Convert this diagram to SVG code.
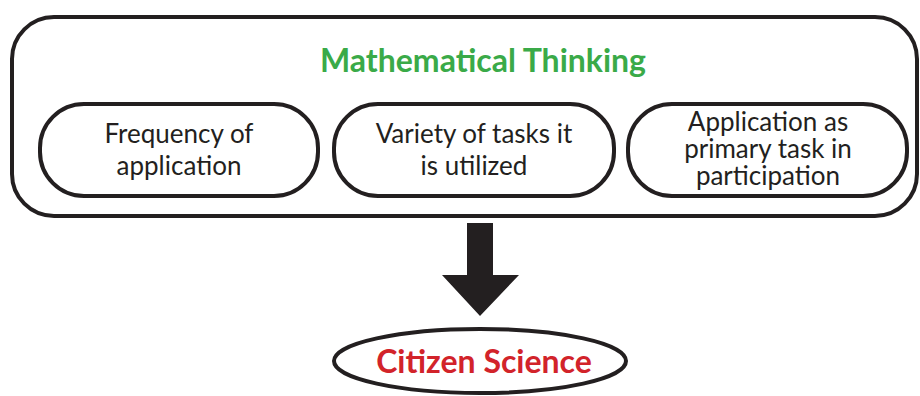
<svg xmlns="http://www.w3.org/2000/svg" width="920" height="396" viewBox="0 0 920 396">
<style>
.box{fill:#fff;stroke:#231f20;stroke-width:4}
.t{font-family:Lato,"Liberation Sans",sans-serif;font-size:26px;fill:#231f20;text-anchor:middle}
.h{font-family:Lato,"Liberation Sans",sans-serif;font-weight:bold;text-anchor:middle}
</style>
<rect width="920" height="396" fill="#fff"/>
<g id="outer">
<rect class="box" x="12" y="17" width="905" height="199" rx="42"/>
<text class="h" x="483" y="72" font-size="32" fill="#3aaa48">Mathematical Thinking</text>
</g>
<g id="box1">
<rect class="box" x="40" y="104" width="278" height="92" rx="44"/>
<text class="t" x="179" y="143">Frequency of</text>
<text class="t" x="179" y="175">application</text>
</g>
<g id="box2">
<rect class="box" x="334" y="104" width="280" height="92" rx="44"/>
<text class="t" x="474" y="143">Variety of tasks it</text>
<text class="t" x="474" y="175">is utilized</text>
</g>
<g id="box3">
<rect class="box" x="628" y="104" width="279" height="92" rx="44"/>
<text class="t" x="768" y="131">Application as</text>
<text class="t" x="768" y="158">primary task in</text>
<text class="t" x="768" y="185">participation</text>
</g>
<g id="connectors">
<polygon points="467,223 493,223 493,275 519,275 480,316 442,275 467,275" fill="#231f20"/>
</g>
<g id="citizen">
<ellipse class="box" cx="480" cy="361" rx="146" ry="32"/>
<text class="h" x="484" y="373" font-size="32" fill="#d2232a">Citizen Science</text>
</g>
</svg>
